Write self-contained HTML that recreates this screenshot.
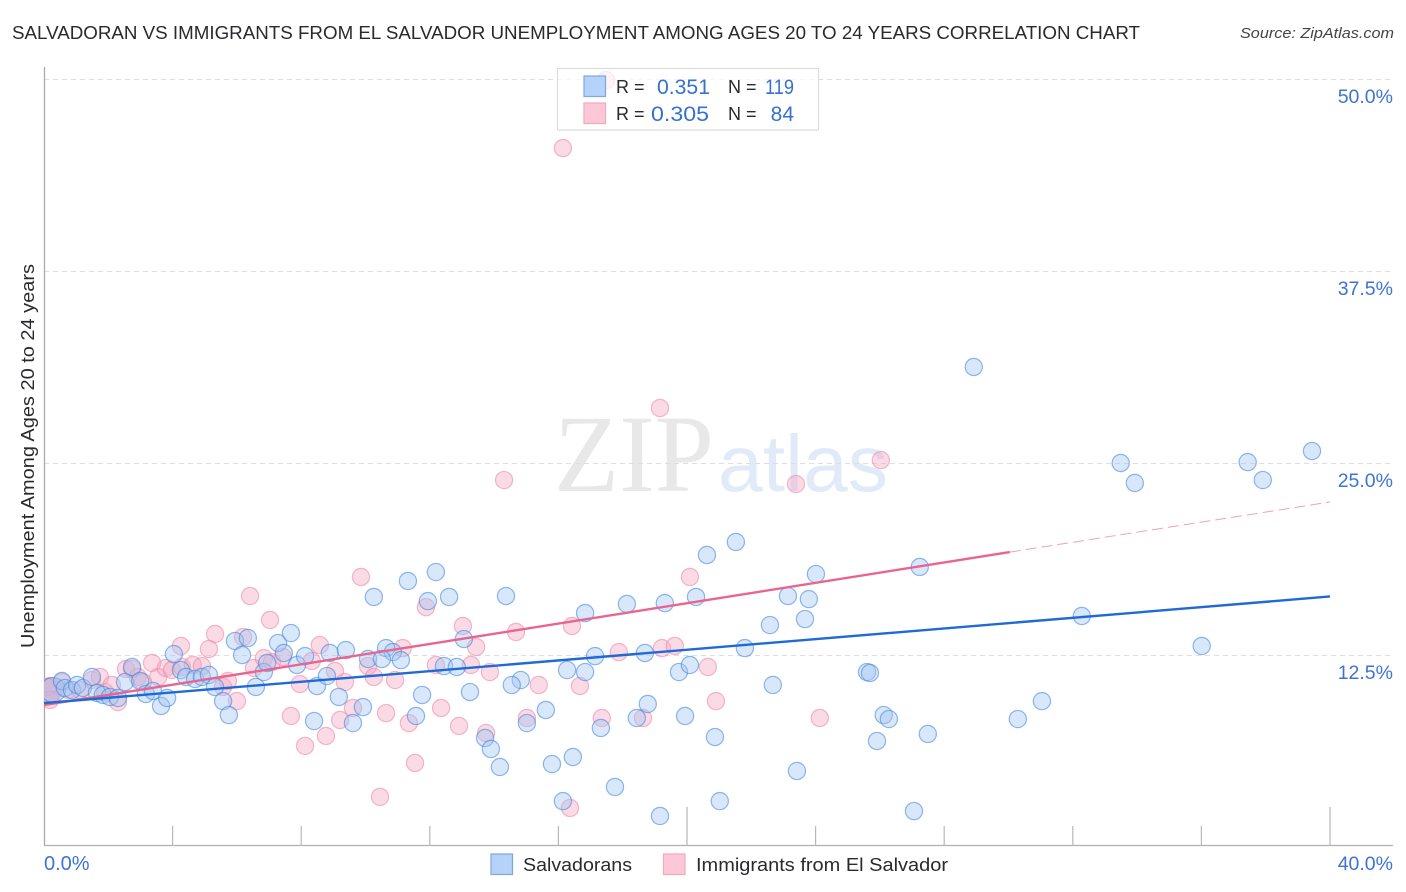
<!DOCTYPE html>
<html lang="en">
<head>
<meta charset="utf-8">
<title>Salvadoran vs Immigrants from El Salvador Correlation Chart</title>
<style>
html,body{margin:0;padding:0;background:#fff;}
svg{display:block;font-family:"Liberation Sans",sans-serif;}
</style>
</head>
<body>
<svg id="chart" width="1406" height="892" viewBox="0 0 1406 892" xmlns="http://www.w3.org/2000/svg">
  <defs>
    <clipPath id="plot-clip"><rect x="44" y="60" width="1349" height="786"></rect></clipPath>
  </defs>
  <text x="12" y="39" font-size="18.5" fill="#2a2a2e" textLength="1128" lengthAdjust="spacingAndGlyphs">SALVADORAN VS IMMIGRANTS FROM EL SALVADOR UNEMPLOYMENT AMONG AGES 20 TO 24 YEARS CORRELATION CHART</text>
  <text x="1394" y="38" font-size="15" font-style="italic" fill="#444" text-anchor="end" textLength="154" lengthAdjust="spacingAndGlyphs">Source: ZipAtlas.com</text>

  <g>
    <text x="554" y="491" font-family="'Liberation Serif',serif" font-size="110" fill="#e8e8e8" textLength="160" lengthAdjust="spacingAndGlyphs">ZIP</text>
    <text x="718" y="491" font-size="80" fill="#e1eaf8" textLength="170" lengthAdjust="spacingAndGlyphs">atlas</text>
  </g>

  <g id="grid"></g>
  <g id="axes"></g>
  <g id="points" clip-path="url(#plot-clip)"></g>
  <g id="trends"></g>
  <g id="labels"></g>

  <text transform="translate(34,456) rotate(-90)" font-size="18.5" fill="#2a2a2e" text-anchor="middle" textLength="384" lengthAdjust="spacingAndGlyphs">Unemployment Among Ages 20 to 24 years</text>

  <g>
    <rect x="557.5" y="68.5" width="261" height="61.5" fill="#fff" fill-opacity="0.7" stroke="#dcdcdc" stroke-width="1.2"></rect>
    <rect x="584" y="76" width="21.5" height="20.5" fill="#b5d2f8" stroke="#7ba8e4" stroke-width="1.2"></rect>
    <rect x="584" y="103" width="21.5" height="20.5" fill="#fcc8d8" stroke="#f2a8c0" stroke-width="1.2"></rect>
    <text x="616" y="93" font-size="18" fill="#2a2a2e">R =</text>
    <text x="657" y="94" font-size="21" fill="#3571cf" textLength="53" lengthAdjust="spacingAndGlyphs">0.351</text>
    <text x="728" y="93" font-size="18" fill="#2a2a2e">N =</text>
    <text x="765" y="94" font-size="21" fill="#3571cf" textLength="29" lengthAdjust="spacingAndGlyphs">119</text>
    <text x="616" y="120" font-size="18" fill="#2a2a2e">R =</text>
    <text x="651" y="121" font-size="21" fill="#3571cf" textLength="58" lengthAdjust="spacingAndGlyphs">0.305</text>
    <text x="728" y="120" font-size="18" fill="#2a2a2e">N =</text>
    <text x="794" y="121" font-size="21" fill="#3571cf" text-anchor="end">84</text>
  </g>

  <g>
    <rect x="491" y="854" width="21.5" height="20.5" fill="#b5d2f8" stroke="#7ba8e4" stroke-width="1.2"></rect>
    <text x="523" y="871" font-size="18.5" fill="#2a2a2e" textLength="109" lengthAdjust="spacingAndGlyphs">Salvadorans</text>
    <rect x="663.5" y="854" width="21.5" height="20.5" fill="#fcc8d8" stroke="#f2a8c0" stroke-width="1.2"></rect>
    <text x="696" y="871" font-size="18.5" fill="#2a2a2e" textLength="252" lengthAdjust="spacingAndGlyphs">Immigrants from El Salvador</text>
  </g>
</svg>
<script>
const xTickValues = [0,4,8,12,16,20,24,28,32,36,40];
const xMajorTicks = [20,40];
const xEndLabels = ["0.0%","40.0%"];
const yTickValues = [50,37.5,25,12.5];
const yTickLabels = ["50.0%","37.5%","25.0%","12.5%"];

const blueX = [0.28,0.56,0.65,0.87,1.03,1.21,1.49,1.65,1.83,2.05,2.30,2.52,2.74,2.99,3.17,3.39,3.64,3.83,4.04,4.26,4.42,4.70,4.91,5.13,5.32,5.57,5.75,5.94,6.34,6.16,6.59,6.84,6.94,7.28,7.68,7.46,7.87,8.12,8.89,9.39,8.49,8.80,9.17,8.40,9.61,9.92,10.08,10.64,10.85,10.51,11.10,10.26,11.32,12.19,11.94,12.60,14.37,13.06,12.44,12.84,11.76,13.25,11.57,14.83,14.55,15.61,15.02,13.72,13.90,14.18,15.80,16.45,17.76,16.14,19.16,16.27,16.83,16.83,17.14,18.13,19.31,20.28,18.69,18.78,18.44,17.32,19.94,19.75,20.09,20.87,25.91,27.49,23.42,21.02,27.06,26.12,26.28,25.60,25.69,22.67,21.80,31.04,30.29,23.14,23.79,23.67,22.58,24.01,27.24,21.52,20.62,32.28,36.01,28.92,33.49,33.93,37.44,37.91,39.44];
const blueY = [10.22,10.81,10.35,10.22,10.55,10.35,11.07,10.03,9.90,9.77,9.70,10.74,11.72,10.81,9.96,10.16,9.18,9.70,12.56,11.52,11.07,10.94,11.07,11.20,10.42,9.50,8.59,13.41,13.61,12.50,10.42,11.39,11.98,13.28,13.93,12.63,11.85,12.43,12.63,12.82,10.48,11.13,9.77,8.20,8.07,9.11,12.24,12.95,12.69,12.24,12.17,16.28,17.32,17.90,16.01,16.28,16.34,13.54,11.78,11.72,9.90,10.09,8.53,10.87,10.55,8.92,8.07,7.10,6.38,5.21,5.40,5.86,3.91,2.99,2.02,11.52,11.39,15.23,12.43,15.82,15.88,16.28,12.63,9.31,8.40,7.75,8.53,11.39,11.85,7.16,6.90,7.36,4.95,2.99,2.34,8.59,8.33,11.39,11.33,10.55,12.95,9.50,8.33,16.34,16.14,14.84,14.45,17.77,18.23,19.86,19.01,15.04,13.09,31.25,25.00,23.70,25.06,23.89,25.78];

const pinkX = [0.19,0.12,0.19,0.56,0.75,1.12,1.49,1.74,1.90,2.11,2.30,2.55,2.74,2.92,3.08,3.36,3.55,3.79,3.98,4.26,4.29,4.63,4.91,5.13,5.32,5.57,5.72,6.00,6.19,6.41,6.53,6.84,7.03,7.09,7.43,7.68,7.96,8.12,8.33,8.58,8.77,9.05,9.36,9.21,9.61,9.86,10.08,10.26,10.92,10.64,10.45,11.16,11.35,11.54,11.88,12.19,12.35,12.91,13.03,13.28,13.44,13.87,13.75,14.31,14.68,15.02,15.39,16.14,16.36,16.42,16.67,17.35,17.48,17.88,18.63,19.16,19.22,19.62,20.09,20.65,20.90,23.39,26.03,24.13];
const pinkY = [10.22,10.42,9.57,10.74,10.22,10.22,10.87,11.07,10.09,10.55,9.44,11.59,11.59,11.07,10.74,11.98,11.07,11.65,11.52,13.09,11.72,11.85,11.78,12.89,13.87,10.42,10.81,9.50,13.67,16.34,11.65,12.30,14.78,12.04,12.37,8.53,10.61,6.58,12.11,13.15,7.23,11.46,10.74,8.27,9.05,17.58,11.78,11.07,10.87,8.72,3.26,12.95,8.07,5.47,15.62,11.85,9.05,7.88,14.39,11.85,13.02,11.39,7.42,23.89,14.00,8.40,10.55,45.50,2.54,14.39,10.48,8.40,49.93,12.69,8.40,28.58,12.95,13.09,17.58,11.72,9.50,23.63,25.19,8.40];

const blueTrendX = [0,40];
const blueTrendY = [9.37,16.31];
const pinkSolidX = [0,30.04];
const pinkSolidY = [9.24,19.2];
const pinkDashX = [30.04,40];
const pinkDashY = [19.2,22.46];

const NS = "http://www.w3.org/2000/svg";
function xScale(v){ return 44 + v * 32.15; }
function yScale(v){ return 847 - v * 15.36; }
function make(tag, attrs, parent){
  const el = document.createElementNS(NS, tag);
  for (const k in attrs) el.setAttribute(k, attrs[k]);
  parent.appendChild(el);
  return el;
}
const gridG = document.getElementById("grid");
const axesG = document.getElementById("axes");
const pointsG = document.getElementById("points");
const trendsG = document.getElementById("trends");
const labelsG = document.getElementById("labels");

yTickValues.forEach(function(v){
  const gy = Math.round(yScale(v)) + 0.5;
  const gl = make("line",{x1:44,x2:1393,y1:gy,y2:gy,stroke:"#dedede","stroke-width":1,"stroke-dasharray":"5 4"},gridG);
  
  
});

const yAxis = make("line",{x1:44.5,x2:44.5,y1:67,y2:846,stroke:"#aaaaaa","stroke-width":1.3},axesG);


const xAxis = make("line",{x1:44,x2:1393,y1:845.5,y2:845.5,stroke:"#b0b0b0","stroke-width":1.3},axesG);


xTickValues.forEach(function(v){
  if (v === 0) return;
  const top = xMajorTicks.indexOf(v) >= 0 ? 807 : 826;
  const t = make("line",{x1:xScale(v),x2:xScale(v),y1:top,y2:846,stroke:"#b8b8b8","stroke-width":1.2},axesG);
  
  
});

function drawSeries(xs, ys, fill, stroke, name, firstOpacity){
  xs.forEach(function(x,i){
    const r = i === 0 ? 12.5 : 8.6;
    const fo = i === 0 ? firstOpacity : 0.42;
    const c = make("circle",{cx:xScale(x),cy:yScale(ys[i]),r:r,fill:fill,"fill-opacity":fo,stroke:stroke,"stroke-opacity":0.58,"stroke-width":1.2},pointsG);
    
    
  });
}
drawSeries(pinkX, pinkY, "#f4a6c0", "#ec86a8", "immigrants-point", 0.85);
drawSeries(blueX, blueY, "#a3c6f2", "#3f86dc", "salvadorans-point", 0.5);

const pinkDash = make("line",{x1:xScale(pinkDashX[0]),y1:yScale(pinkDashY[0]),x2:xScale(pinkDashX[1]),y2:yScale(pinkDashY[1]),stroke:"#efa0b8","stroke-width":1,"stroke-dasharray":"11 5"},trendsG);


const pinkSolid = make("line",{x1:xScale(pinkSolidX[0]),y1:yScale(pinkSolidY[0]),x2:xScale(pinkSolidX[1]),y2:yScale(pinkSolidY[1]),stroke:"#e9648f","stroke-width":2.4},trendsG);


const blueTrend = make("line",{x1:xScale(blueTrendX[0]),y1:yScale(blueTrendY[0]),x2:xScale(blueTrendX[1]),y2:yScale(blueTrendY[1]),stroke:"#1f6ad4","stroke-width":2.4},trendsG);



yTickValues.forEach(function(v,i){
  const t = make("text",{x:1393,y:yScale(v)+24,"font-size":19.5,fill:"#3d74d4","text-anchor":"end"},labelsG);
  t.textContent = yTickLabels[i];
  
  
});
const xLabelLeft = make("text",{x:44,y:870,"font-size":20,fill:"#3d74d4"},labelsG);
xLabelLeft.textContent = xEndLabels[0];


const xLabelRight = make("text",{x:1393,y:870,"font-size":19.5,fill:"#3d74d4","text-anchor":"end"},labelsG);
xLabelRight.textContent = xEndLabels[1];


</script>
</body>
</html>
